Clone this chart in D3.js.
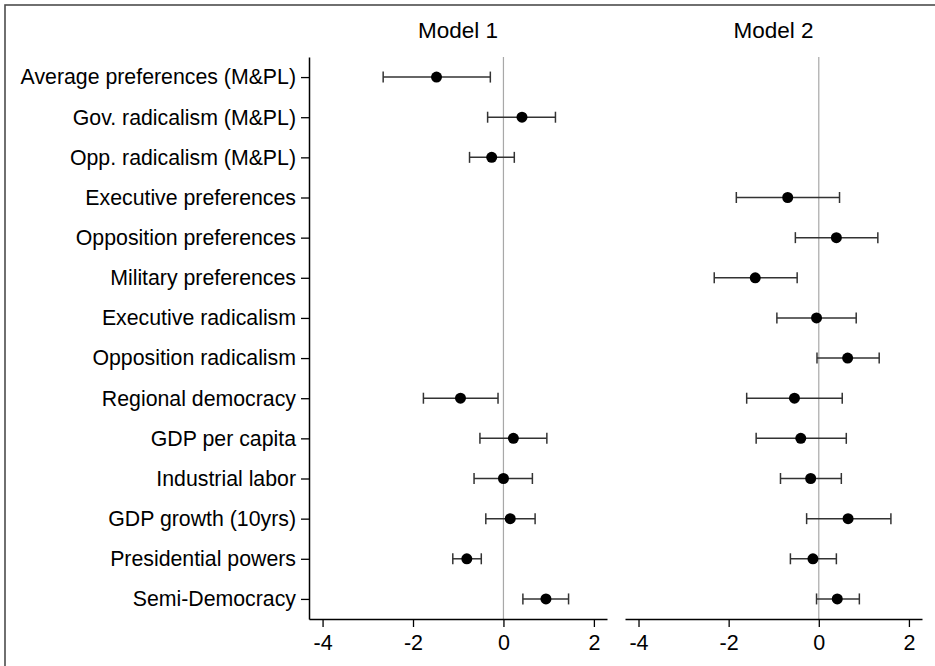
<!DOCTYPE html>
<html>
<head>
<meta charset="utf-8">
<script src="https://cdn.jsdelivr.net/npm/d3@7"></script>
<style>
  body { margin: 0; background: #fff; }
  text { font-family: 'Liberation Sans', Arial, sans-serif; }
</style>
</head>
<body>
<div id="chart"></div>
<script>
// variables, top to bottom
var variables = [
  'Average preferences (M&PL)',
  'Gov. radicalism (M&PL)',
  'Opp. radicalism (M&PL)',
  'Executive preferences',
  'Opposition preferences',
  'Military preferences',
  'Executive radicalism',
  'Opposition radicalism',
  'Regional democracy',
  'GDP per capita',
  'Industrial labor',
  'GDP growth (10yrs)',
  'Presidential powers',
  'Semi-Democracy'
]

var models = ['Model 1', 'Model 2']

var xTicks = [-4, -2, 0, 2]

// point estimates (null = not in model)
var model1Est = [-1.48, 0.41, -0.26, null, null, null, null, null, -0.95, 0.22, 0.0, 0.15, -0.81, 0.94]
var model1Lo = [-2.66, -0.35, -0.75, null, null, null, null, null, -1.77, -0.52, -0.65, -0.39, -1.12, 0.43]
var model1Hi = [-0.29, 1.15, 0.24, null, null, null, null, null, -0.12, 0.96, 0.64, 0.70, -0.49, 1.44]

var model2Est = [null, null, null, -0.69, 0.39, -1.41, -0.05, 0.64, -0.54, -0.40, -0.18, 0.65, -0.13, 0.41]
var model2Lo = [null, null, null, -1.83, -0.52, -2.32, -0.93, -0.04, -1.60, -1.39, -0.85, -0.27, -0.63, -0.05]
var model2Hi = [null, null, null, 0.46, 1.31, -0.48, 0.83, 1.34, 0.52, 0.61, 0.50, 1.60, 0.39, 0.90]

var width = 935
var height = 666

var svg = d3
  .select('#chart')
  .append('svg')
  .attr('width', width)
  .attr('height', height)

// outer frame (right and bottom run off the picture)
svg
  .append('rect')
  .attr('x', 5)
  .attr('y', 5)
  .attr('width', width + 20)
  .attr('height', height + 20)
  .attr('fill', 'none')
  .attr('stroke', '#4d4d4d')
  .attr('stroke-width', 1.6)

var plotTop = 57
var plotBottom = 619

var yPositionScale = d3
  .scalePoint()
  .domain(variables)
  .range([plotTop, plotBottom])
  .padding(0.5)

var panels = [
  { title: models[0], x0: 309, x1: 607, est: model1Est, lo: model1Lo, hi: model1Hi, yAxis: true },
  { title: models[1], x0: 625, x1: 922, est: model2Est, lo: model2Lo, hi: model2Hi, yAxis: false }
]

panels.forEach(p => {
  var xPositionScale = d3
    .scaleLinear()
    .domain([-4.3, 2.29])
    .range([p.x0, p.x1])

  var g = svg.append('g')

  // zero reference line
  g.append('line')
    .attr('x1', xPositionScale(0))
    .attr('x2', xPositionScale(0))
    .attr('y1', plotTop)
    .attr('y2', plotBottom)
    .attr('stroke', '#a8a8a8')
    .attr('stroke-width', 1.2)

  var rows = variables
    .map((v, i) => ({ name: v, est: p.est[i], lo: p.lo[i], hi: p.hi[i] }))
    .filter(d => d.est !== null)

  var bars = g
    .selectAll('.ci')
    .data(rows)
    .enter()
    .append('g')
    .attr('class', 'ci')
    .attr('stroke', '#333')
    .attr('stroke-width', 1.5)

  bars
    .append('line')
    .attr('x1', d => xPositionScale(d.lo))
    .attr('x2', d => xPositionScale(d.hi))
    .attr('y1', d => yPositionScale(d.name))
    .attr('y2', d => yPositionScale(d.name))

  bars
    .append('line')
    .attr('x1', d => xPositionScale(d.lo))
    .attr('x2', d => xPositionScale(d.lo))
    .attr('y1', d => yPositionScale(d.name) - 5.5)
    .attr('y2', d => yPositionScale(d.name) + 5.5)

  bars
    .append('line')
    .attr('x1', d => xPositionScale(d.hi))
    .attr('x2', d => xPositionScale(d.hi))
    .attr('y1', d => yPositionScale(d.name) - 5.5)
    .attr('y2', d => yPositionScale(d.name) + 5.5)

  g.selectAll('.dot')
    .data(rows)
    .enter()
    .append('circle')
    .attr('class', 'dot')
    .attr('cx', d => xPositionScale(d.est))
    .attr('cy', d => yPositionScale(d.name))
    .attr('r', 5.5)
    .attr('fill', '#000')

  // x axis
  var xAxis = d3
    .axisBottom(xPositionScale)
    .tickValues(xTicks)
    .tickFormat(d => String(d))
    .tickSize(8)
    .tickSizeOuter(0)

  var xg = g
    .append('g')
    .attr('class', 'axis x-axis')
    .attr('transform', 'translate(0,' + plotBottom + ')')
    .call(xAxis)
  xg.select('.domain').attr('stroke', '#000').attr('stroke-width', 1.5)
  xg.selectAll('.tick line').attr('stroke', '#000').attr('stroke-width', 1.3)
  xg.selectAll('.tick text')
    .attr('font-size', 21.5)
    .attr('font-family', "'Liberation Sans', Arial, sans-serif")
    .attr('fill', '#000')
    .attr('dy', '0.95em')

  if (p.yAxis) {
    var yAxis = d3.axisLeft(yPositionScale).tickSize(8).tickSizeOuter(0).tickPadding(5)
    var yg = g
      .append('g')
      .attr('class', 'axis y-axis')
      .attr('transform', 'translate(' + p.x0 + ',0)')
      .call(yAxis)
    yg.select('.domain').attr('stroke', '#000').attr('stroke-width', 1.5)
    yg.selectAll('.tick line').attr('stroke', '#000').attr('stroke-width', 1.3)
    yg.selectAll('.tick text')
      .attr('font-size', 21.3)
      .attr('font-family', "'Liberation Sans', Arial, sans-serif")
      .attr('fill', '#000')
  }

  // panel title
  g.append('text')
    .text(p.title)
    .attr('x', (p.x0 + p.x1) / 2)
    .attr('y', 38)
    .attr('text-anchor', 'middle')
    .attr('font-size', 22.5)
    .attr('fill', '#000')
})
</script>
</body>
</html>
